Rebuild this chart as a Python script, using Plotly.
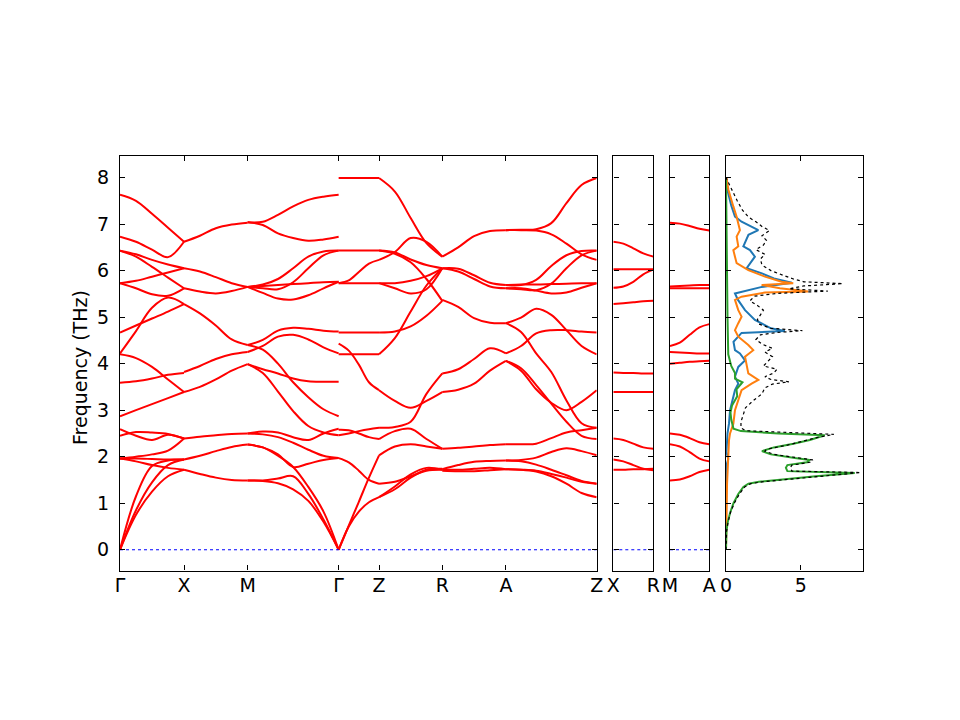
"""Phonon band structure with projected DOS, recreated in plotly."""

import numpy as np
import plotly.graph_objects as go

# ---------------------------------------------------------------- q-path
MAIN_LABELS = ["Γ", "X", "M", "Γ", "Z", "R", "A", "Z"]
MAIN_SEG_LEN = [0.160, 0.159, 0.2275, 0.101, 0.158, 0.159, 0.227]
XR_LABELS, XR_LEN = ["X", "R"], 0.100
MA_LABELS, MA_LEN = ["M", "A"], 0.098

# ---------------------------------------------------------------- bands (THz)
# each row is one branch sampled at equally spaced q along the segment
GX = [
    [7.63, 7.50, 7.22, 6.92, 6.62],
    [6.73, 6.62, 6.45, 6.29, 6.62],
    [6.43, 6.35, 6.23, 6.13, 6.05],
    [6.43, 6.30, 6.08, 5.85, 5.62],
    [5.73, 5.78, 5.87, 5.96, 6.05],
    [5.73, 5.62, 5.49, 5.46, 5.62],
    [4.22, 4.70, 5.20, 5.42, 5.28],
    [4.67, 4.82, 4.97, 5.12, 5.28],
    [4.20, 4.12, 3.93, 3.66, 3.39],
    [3.59, 3.62, 3.68, 3.76, 3.80],
    [2.87, 3.00, 3.13, 3.26, 3.39],
    [2.59, 2.45, 2.36, 2.47, 2.39],
    [2.45, 2.53, 2.52, 2.49, 2.39],
    [1.96, 2.00, 2.05, 2.13, 2.39],
    [1.96, 1.96, 1.95, 1.94, 1.94],
    [1.96, 1.90, 1.82, 1.76, 1.72],
    [0.00, 1.15, 1.80, 1.92, 1.94],
    [0.00, 0.85, 1.45, 1.82, 1.94],
    [0.00, 0.75, 1.25, 1.58, 1.72],
]
XM = [
    [6.62, 6.75, 6.91, 6.99, 7.03],
    [6.05, 5.98, 5.86, 5.73, 5.65],
    [5.62, 5.55, 5.51, 5.56, 5.65],
    [5.28, 5.08, 4.82, 4.52, 4.40],
    [3.82, 3.95, 4.10, 4.20, 4.25],
    [3.39, 3.50, 3.66, 3.85, 3.99],
    [2.39, 2.43, 2.46, 2.49, 2.50],
    [1.94, 2.02, 2.12, 2.21, 2.26],
    [1.72, 1.63, 1.55, 1.50, 1.49],
]
MG = [
    [7.04, 7.05, 7.20, 7.38, 7.52, 7.59, 7.63],
    [7.04, 6.98, 6.80, 6.70, 6.64, 6.67, 6.73],
    [5.65, 5.70, 5.82, 6.05, 6.30, 6.41, 6.43],
    [5.65, 5.62, 5.60, 5.75, 6.05, 6.33, 6.43],
    [5.65, 5.67, 5.69, 5.71, 5.73, 5.75, 5.76],
    [5.65, 5.52, 5.40, 5.38, 5.47, 5.62, 5.76],
    [4.40, 4.51, 4.71, 4.77, 4.75, 4.71, 4.69],
    [4.25, 4.38, 4.58, 4.62, 4.52, 4.35, 4.22],
    [4.40, 4.30, 4.00, 3.60, 3.28, 3.02, 2.87],
    [3.99, 3.88, 3.79, 3.68, 3.62, 3.61, 3.61],
    [3.99, 3.80, 3.40, 2.98, 2.66, 2.52, 2.46],
    [2.50, 2.54, 2.52, 2.42, 2.36, 2.50, 2.60],
    [2.50, 2.48, 2.42, 2.30, 2.15, 2.02, 1.97],
    [2.26, 2.20, 2.05, 1.78, 1.85, 1.93, 1.97],
    [2.26, 2.20, 2.02, 1.78, 1.35, 0.82, 0.00],
    [1.49, 1.49, 1.53, 1.58, 1.20, 0.65, 0.00],
    [1.49, 1.48, 1.43, 1.30, 1.05, 0.60, 0.00],
]
GZ = [
    [7.99, 7.99, 7.99, 7.99, 7.99],
    [6.43, 6.43, 6.43, 6.43, 6.43],
    [5.73, 5.79, 5.97, 6.15, 6.23],
    [5.73, 5.73, 5.73, 5.73, 5.73],
    [4.67, 4.67, 4.67, 4.67, 4.67],
    [4.20, 4.20, 4.20, 4.20, 4.20],
    [4.43, 4.28, 3.98, 3.60, 3.43],
    [2.46, 2.50, 2.55, 2.59, 2.62],
    [2.58, 2.57, 2.50, 2.42, 2.38],
    [1.97, 1.88, 1.70, 1.50, 1.42],
    [0.00, 0.52, 1.03, 1.55, 2.03],
    [0.00, 0.50, 0.82, 1.02, 1.13],
]
ZR = [
    [7.99, 7.70, 7.13, 6.59, 6.30],
    [6.23, 6.40, 6.70, 6.62, 6.30],
    [6.43, 6.39, 6.24, 6.12, 6.05],
    [6.43, 6.36, 6.18, 5.82, 5.35],
    [5.73, 5.73, 5.78, 5.88, 6.05],
    [5.73, 5.62, 5.51, 5.60, 6.05],
    [4.20, 4.55, 5.12, 5.68, 6.05],
    [4.67, 4.69, 4.80, 5.03, 5.35],
    [3.43, 3.20, 3.05, 3.20, 3.39],
    [2.62, 2.64, 2.75, 3.35, 3.79],
    [2.38, 2.55, 2.60, 2.38, 2.17],
    [2.03, 2.22, 2.27, 2.22, 2.17],
    [1.42, 1.46, 1.58, 1.70, 1.72],
    [1.13, 1.30, 1.55, 1.72, 1.74],
    [1.13, 1.36, 1.62, 1.76, 1.72],
]
RA = [
    [6.30, 6.50, 6.74, 6.85, 6.87],
    [6.05, 6.04, 5.90, 5.74, 5.69],
    [6.05, 5.98, 5.82, 5.66, 5.62],
    [5.37, 5.22, 4.98, 4.88, 4.87],
    [3.79, 3.88, 4.10, 4.33, 4.22],
    [3.39, 3.44, 3.57, 3.85, 4.06],
    [2.17, 2.19, 2.22, 2.25, 2.27],
    [1.73, 1.82, 1.89, 1.91, 1.92],
    [1.70, 1.69, 1.69, 1.71, 1.73],
    [1.72, 1.72, 1.74, 1.76, 1.73],
]
AZ = [
    [6.87, 6.88, 6.89, 7.02, 7.45, 7.84, 7.99],
    [6.87, 6.87, 6.86, 6.78, 6.58, 6.35, 6.23],
    [5.69, 5.69, 5.80, 6.10, 6.33, 6.42, 6.43],
    [5.62, 5.60, 5.58, 5.72, 6.05, 6.33, 6.43],
    [5.69, 5.70, 5.70, 5.71, 5.72, 5.73, 5.73],
    [5.62, 5.62, 5.57, 5.51, 5.53, 5.63, 5.73],
    [4.87, 4.99, 5.18, 5.05, 4.72, 4.38, 4.20],
    [4.22, 4.38, 4.65, 4.72, 4.72, 4.69, 4.67],
    [4.87, 4.68, 4.22, 3.82, 3.21, 2.72, 2.62],
    [4.06, 3.90, 3.54, 3.14, 2.75, 2.45, 2.38],
    [4.06, 3.85, 3.45, 3.16, 3.00, 3.18, 3.43],
    [2.27, 2.27, 2.28, 2.40, 2.52, 2.57, 2.62],
    [1.92, 1.93, 1.98, 2.10, 2.18, 2.12, 2.03],
    [1.92, 1.90, 1.83, 1.72, 1.60, 1.48, 1.42],
    [1.73, 1.72, 1.68, 1.58, 1.42, 1.22, 1.13],
    [1.73, 1.72, 1.70, 1.63, 1.55, 1.46, 1.42],
]
XR = [
    [6.62, 6.58, 6.48, 6.37, 6.30],
    [6.03, 6.03, 6.03, 6.03, 6.03],
    [5.63, 5.66, 5.76, 5.92, 6.02],
    [5.28, 5.30, 5.32, 5.34, 5.35],
    [3.81, 3.80, 3.80, 3.79, 3.79],
    [3.39, 3.39, 3.39, 3.39, 3.39],
    [2.39, 2.36, 2.28, 2.20, 2.17],
    [1.94, 1.90, 1.82, 1.74, 1.71],
    [1.72, 1.72, 1.73, 1.73, 1.74],
]
MA = [
    [7.03, 7.01, 6.96, 6.90, 6.86],
    [5.66, 5.67, 5.68, 5.69, 5.69],
    [5.62, 5.62, 5.62, 5.62, 5.62],
    [4.38, 4.45, 4.62, 4.78, 4.85],
    [4.25, 4.24, 4.23, 4.22, 4.22],
    [4.00, 4.02, 4.04, 4.05, 4.06],
    [2.50, 2.47, 2.40, 2.31, 2.27],
    [2.27, 2.22, 2.10, 1.96, 1.90],
    [1.49, 1.51, 1.58, 1.67, 1.72],
]
MAIN_SEGMENTS = [GX, XM, MG, GZ, ZR, RA, AZ]

# ---------------------------------------------------------------- DOS
TOTAL_F = [0.00, 0.40, 0.60, 0.80, 1.00, 1.20, 1.35, 1.42, 1.46, 1.52, 1.58,
           1.66, 1.69, 1.76, 1.82, 1.88, 1.93, 1.97, 2.05, 2.12, 2.16, 2.25,
           2.35, 2.42, 2.48, 2.52, 2.56, 2.62, 2.75, 2.90, 3.05, 3.20, 3.35,
           3.48, 3.56, 3.61, 3.66, 3.72, 3.80, 3.88, 3.95, 4.05, 4.15, 4.25,
           4.33, 4.42, 4.52, 4.62, 4.67, 4.71, 4.76, 4.85, 4.95, 5.05, 5.15,
           5.25, 5.35, 5.45, 5.51, 5.56, 5.61, 5.67, 5.72, 5.76, 5.82, 5.90,
           6.00, 6.12, 6.25, 6.35, 6.45, 6.55, 6.65, 6.75, 6.86, 6.95, 7.05,
           7.15, 7.30, 7.50, 7.70, 7.90, 8.00]
TOTAL_DOS = [0.00, 0.04, 0.14, 0.30, 0.55, 0.90, 1.25, 1.65, 2.40, 4.30, 6.30,
             9.00, 4.40, 4.30, 4.40, 5.60, 5.80, 4.80, 3.20, 2.60, 2.70, 4.10,
             5.40, 6.20, 7.20, 3.80, 1.30, 1.00, 1.00, 1.15, 1.30, 1.80, 2.40,
             2.60, 3.10, 4.20, 3.00, 2.60, 3.20, 3.40, 2.50, 2.80, 3.10, 2.60,
             3.10, 2.40, 2.00, 2.30, 3.40, 5.10, 3.00, 2.20, 2.10, 2.30, 2.50,
             2.10, 1.60, 1.90, 3.40, 6.80, 4.20, 5.20, 7.80, 5.20, 4.50, 3.80,
             3.00, 2.40, 2.30, 2.60, 2.00, 2.50, 2.70, 2.40, 2.90, 2.40, 2.00,
             1.50, 1.10, 0.75, 0.45, 0.12, 0.00]

BLUE_F = [0.00, 1.80, 1.95, 2.10, 2.50, 2.71, 3.00, 3.29, 3.43, 3.57, 3.72,
          3.93, 4.07, 4.22, 4.29, 4.47, 4.66, 4.70, 4.76, 4.94, 5.15, 5.37,
          5.51, 5.65, 5.74, 5.83, 5.94, 6.05, 6.30, 6.44, 6.52, 6.77, 6.87,
          7.05, 7.16, 7.40, 7.70, 8.00]
BLUE_DOS = [0.00, 0.02, 0.15, 0.03, 0.10, 0.20, 0.27, 0.50, 0.60, 0.82, 0.60,
            0.82, 1.27, 0.93, 0.60, 0.50, 1.04, 3.93, 3.00, 1.93, 1.27, 0.80,
            0.60, 2.40, 4.40, 3.20, 2.40, 1.38, 1.93, 1.60, 1.16, 1.50, 2.16,
            1.04, 0.60, 0.35, 0.12, 0.00]

ORANGE_F = [0.00, 1.00, 1.42, 1.71, 2.14, 2.35, 2.50, 2.71, 3.00, 3.21, 3.43,
            3.57, 3.65, 3.79, 4.00, 4.15, 4.29, 4.40, 4.58, 4.72, 4.87, 5.01,
            5.15, 5.37, 5.44, 5.53, 5.55, 5.62, 5.69, 5.73, 5.76, 5.87, 6.01,
            6.16, 6.30, 6.44, 6.52, 6.73, 6.87, 7.16, 7.38, 7.74, 7.99]
ORANGE_DOS = [0.00, 0.03, 0.07, 0.11, 0.16, 0.20, 0.27, 0.49, 0.60, 0.82, 1.04,
              1.71, 2.16, 1.49, 1.38, 1.27, 1.82, 1.49, 0.82, 0.60, 0.82, 1.04,
              0.82, 0.60, 1.04, 2.60, 5.49, 3.60, 2.38, 4.49, 3.71, 2.60, 1.49,
              0.71, 0.60, 0.49, 0.82, 0.71, 0.93, 0.71, 0.49, 0.16, 0.04]

GREEN_F = [0.00, 0.40, 0.60, 0.80, 1.00, 1.20, 1.35, 1.42, 1.46, 1.52, 1.58,
           1.65, 1.69, 1.76, 1.82, 1.88, 1.93, 1.97, 2.05, 2.12, 2.20, 2.28,
           2.36, 2.46, 2.50, 2.55, 2.60, 2.80, 2.95, 3.10, 3.30, 3.45, 3.60,
           3.68, 3.80, 3.95, 4.20, 5.00, 6.00, 7.00, 8.00]
GREEN_DOS = [0.00, 0.03, 0.12, 0.28, 0.50, 0.82, 1.16, 1.50, 2.20, 4.00, 6.00,
             8.60, 4.10, 4.00, 4.10, 5.40, 5.60, 4.60, 3.00, 2.40, 3.20, 4.50,
             5.60, 6.60, 3.50, 1.00, 0.50, 0.35, 0.30, 0.40, 0.75, 0.70, 1.10,
             0.60, 0.60, 0.35, 0.15, 0.10, 0.08, 0.05, 0.00]

Y_RANGE = [-0.446, 8.47]
DOS_RANGE = [0, 9.15]

W, H = 960, 720
RED = "#ff0000"
FONT = "DejaVu Sans"
FSIZE = 19


def fx(px):
    """Window pixel column -> paper fraction."""
    return px / W


def fy(px):
    """Window pixel row -> paper fraction."""
    return 1 - px / H


def branches_xy(x0, length, branches):
    """Flatten branches of one segment into x/y lists split by None."""
    xs, ys = [], []
    for branch in branches:
        qs = np.linspace(x0, x0 + length, len(branch))
        xs += list(qs) + [None]
        ys += list(branch) + [None]
    return xs, ys


def axis_style(**extra):
    style = dict(
        showline=True, linecolor="black", linewidth=1.4, mirror="ticks",
        ticks="inside", ticklen=5, tickwidth=1.2, tickcolor="black",
        showgrid=False, zeroline=False, automargin=False,
        tickfont=dict(family=FONT, size=FSIZE, color="black"),
    )
    style.update(extra)
    return style


fig = go.Figure()

# main panel
ticks = np.concatenate([[0.0], np.cumsum(MAIN_SEG_LEN)])
mx, my = [], []
for start, length, seg in zip(ticks[:-1], MAIN_SEG_LEN, MAIN_SEGMENTS):
    sx, sy = branches_xy(start, length, seg)
    mx += sx
    my += sy
fig.add_scatter(x=mx, y=my, mode="lines", line=dict(color=RED, width=2, shape="spline"),
                xaxis="x", yaxis="y", showlegend=False)
fig.add_scatter(x=[0, ticks[-1]], y=[0, 0], mode="lines",
                line=dict(color="blue", width=1, dash="dot"), xaxis="x", yaxis="y",
                showlegend=False)

# side panels
for axn, length, seg in (("2", XR_LEN, XR), ("3", MA_LEN, MA)):
    sx, sy = branches_xy(0.0, length, seg)
    fig.add_scatter(x=sx, y=sy, mode="lines", line=dict(color=RED, width=2, shape="spline"),
                    xaxis="x" + axn, yaxis="y" + axn, showlegend=False)
    fig.add_scatter(x=[0, length], y=[0, 0], mode="lines",
                    line=dict(color="blue", width=1, dash="dot"),
                    xaxis="x" + axn, yaxis="y" + axn, showlegend=False)

# DOS panel
for f, d, color, dash, width in (
    (BLUE_F, BLUE_DOS, "#1f77b4", "solid", 2),
    (ORANGE_F, ORANGE_DOS, "#ff7f0e", "solid", 2),
    (GREEN_F, GREEN_DOS, "#2ca02c", "solid", 2),
    (TOTAL_F, TOTAL_DOS, "black", "dot", 1.2),
):
    fig.add_scatter(x=d, y=f, mode="lines", line=dict(color=color, width=width, dash=dash),
                    xaxis="x4", yaxis="y4", showlegend=False)

ydom = [fy(570.5), fy(155.7)]
fig.update_layout(
    width=W, height=H, autosize=False,
    margin=dict(l=0, r=0, t=0, b=0, pad=0),
    paper_bgcolor="white", plot_bgcolor="white",
    font=dict(family=FONT, size=FSIZE, color="black"),
    xaxis=axis_style(domain=[fx(120), fx(596.7)], range=[0, ticks[-1]],
                     tickvals=list(ticks), ticktext=MAIN_LABELS, anchor="y",
                     ticklabelstandoff=-3),
    yaxis=axis_style(domain=ydom, range=Y_RANGE, tickvals=list(range(9)), anchor="x",
                     ticklabelstandoff=6),
    xaxis2=axis_style(domain=[fx(613.3), fx(653.3)], range=[0, XR_LEN],
                      tickvals=[0, XR_LEN], ticktext=XR_LABELS, anchor="y2",
                      ticklabelstandoff=-3),
    yaxis2=axis_style(domain=ydom, range=Y_RANGE, tickvals=list(range(9)), anchor="x2",
                      showticklabels=False),
    xaxis3=axis_style(domain=[fx(670), fx(709.3)], range=[0, MA_LEN],
                      tickvals=[0, MA_LEN], ticktext=MA_LABELS, anchor="y3",
                      ticklabelstandoff=-3),
    yaxis3=axis_style(domain=ydom, range=Y_RANGE, tickvals=list(range(9)), anchor="x3",
                      showticklabels=False),
    xaxis4=axis_style(domain=[fx(726), fx(863)], range=DOS_RANGE,
                      tickvals=[0, 5], ticktext=["0", "5"], anchor="y4",
                      ticklabelstandoff=-3),
    yaxis4=axis_style(domain=ydom, range=Y_RANGE, tickvals=list(range(9)), anchor="x4",
                      showticklabels=False),
)
fig.add_annotation(text="Frequency (THz)", xref="paper", yref="paper",
                   x=fx(80), y=fy(368), xanchor="center", yanchor="middle",
                   textangle=-90, showarrow=False,
                   font=dict(family=FONT, size=FSIZE, color="black"))

# drop the default page margin so the 960x720 figure fills the window exactly
fig.write_html("out.html", config={"displayModeBar": False},
               post_script="document.body.style.margin='0';"
                           "document.body.style.overflow='hidden';")
